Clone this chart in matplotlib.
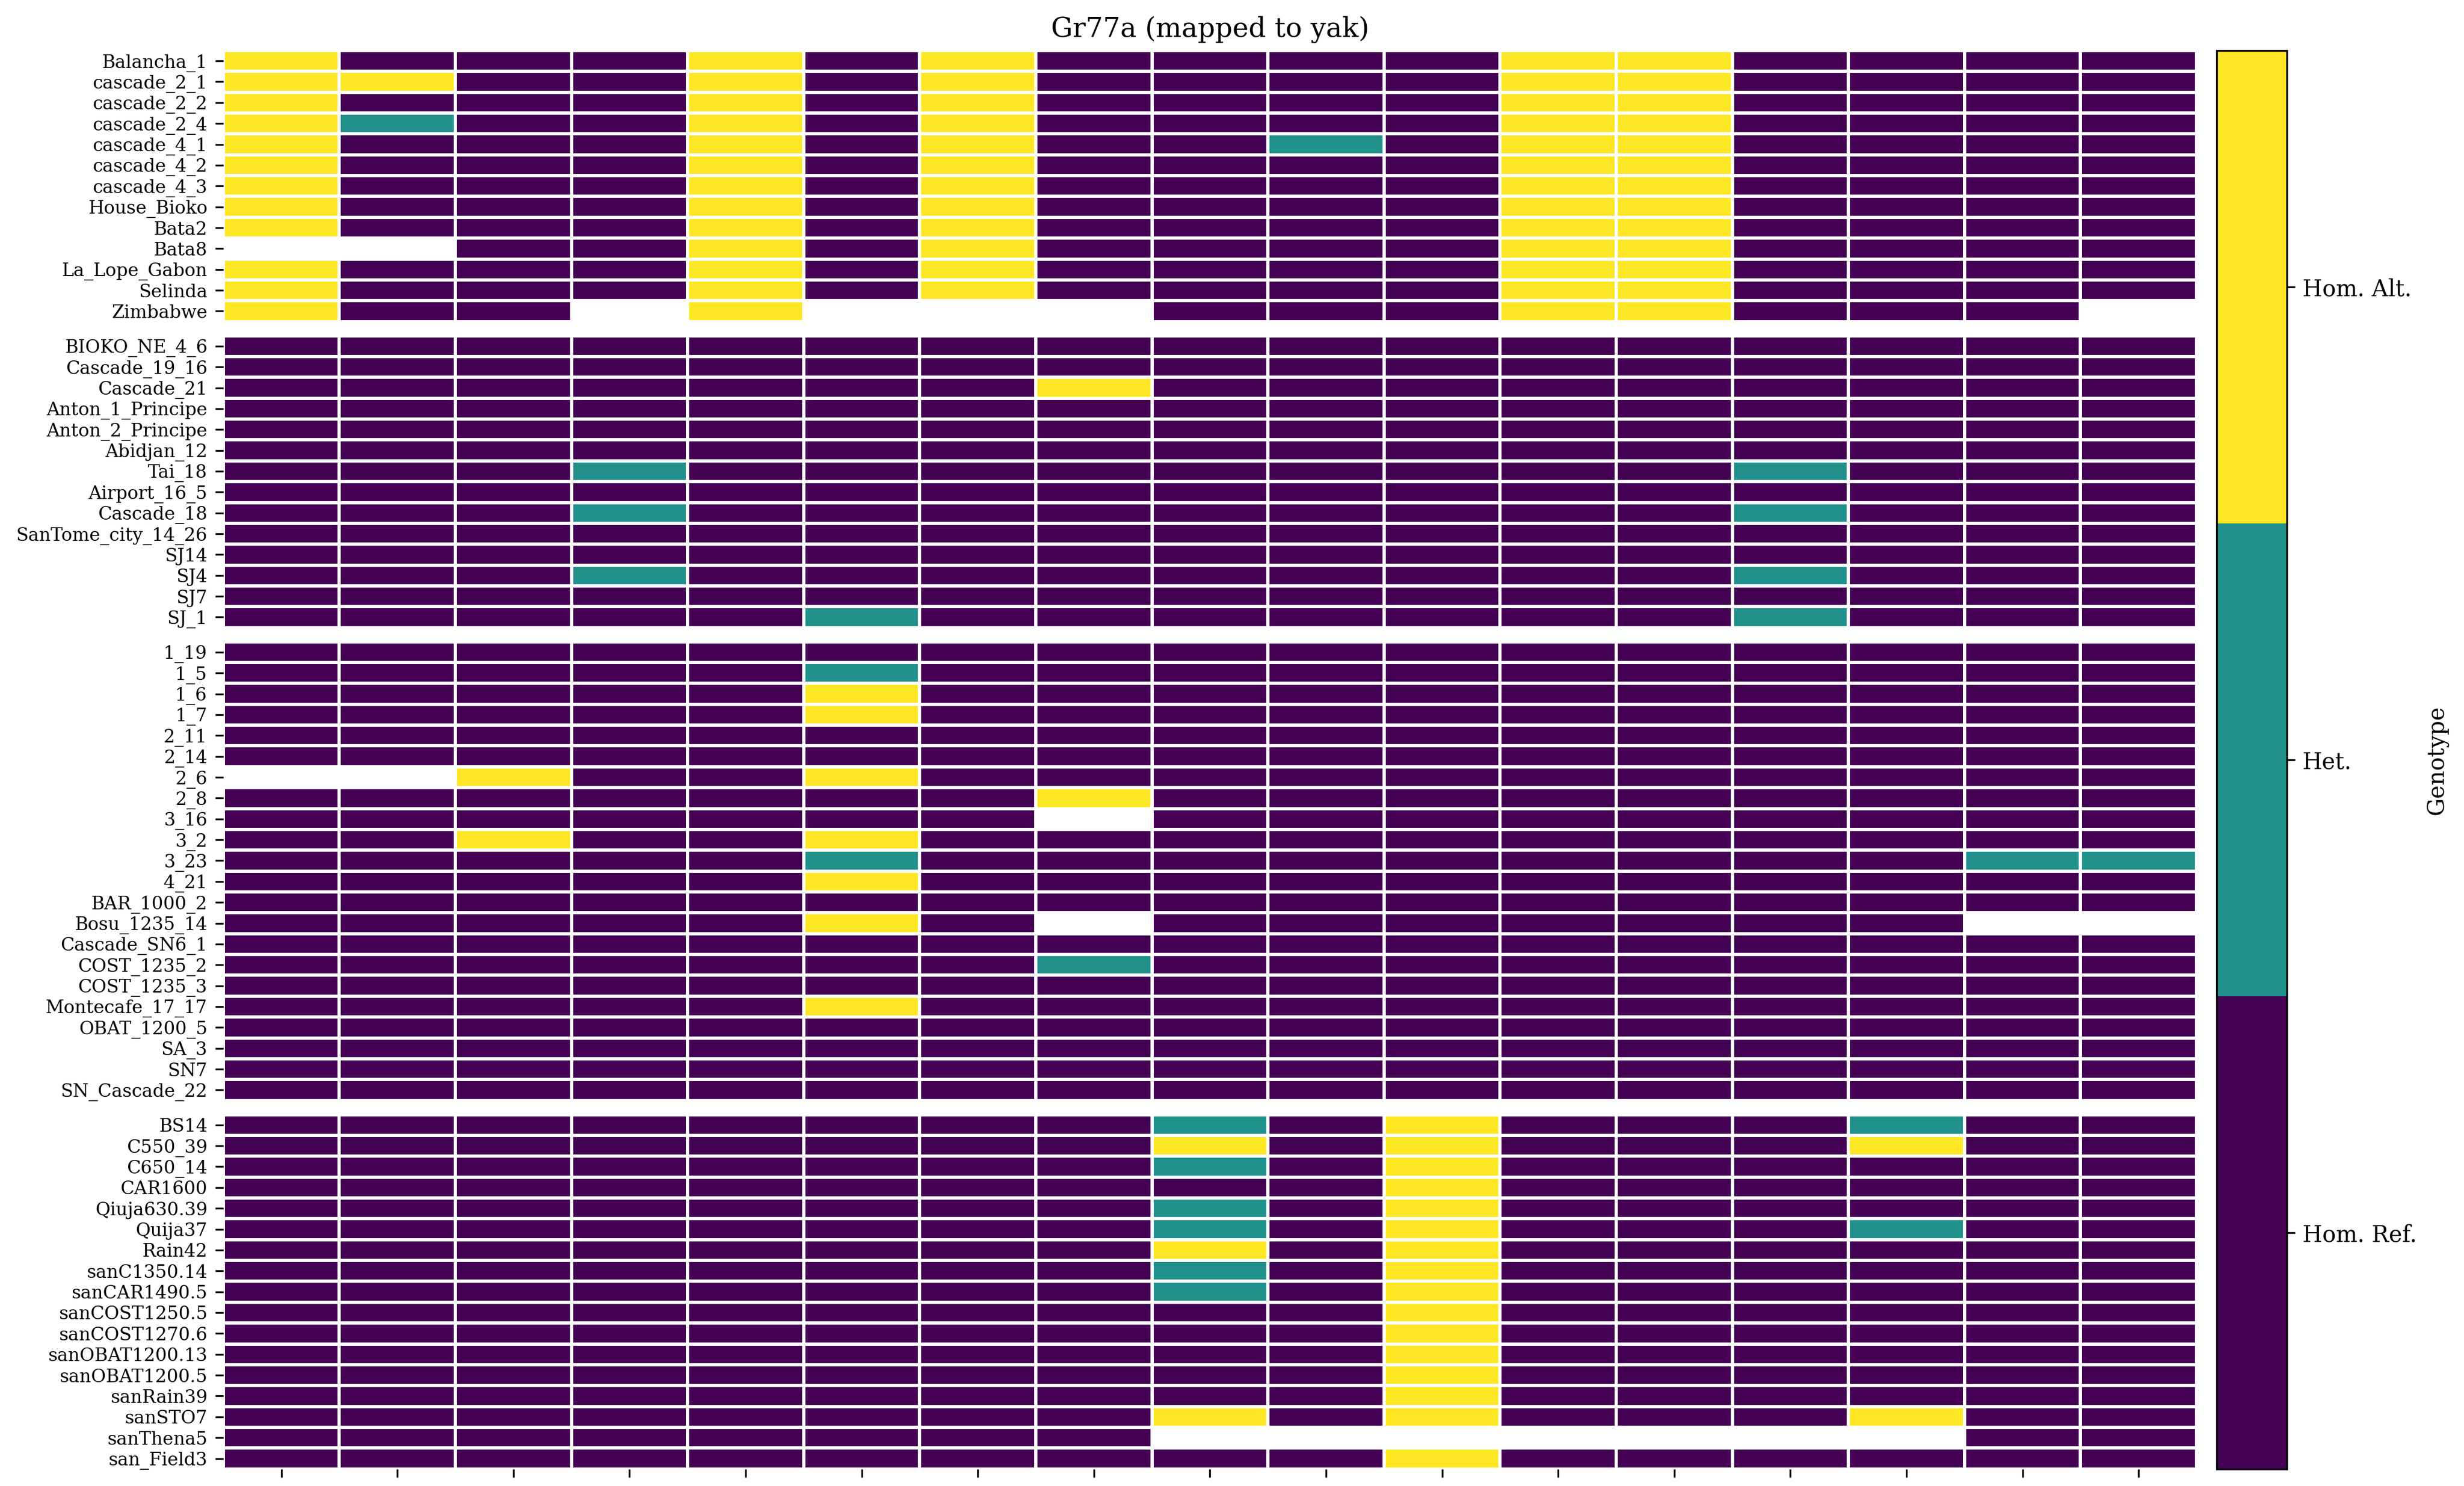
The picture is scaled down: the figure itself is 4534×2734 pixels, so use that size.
import numpy as np
import matplotlib
matplotlib.use("Agg")
import matplotlib.pyplot as plt
from matplotlib.colors import ListedColormap, BoundaryNorm

plt.rcParams['font.family'] = ['DejaVu Serif']

N = np.nan  # missing genotype

# 0 = Hom. Ref., 1 = Het., 2 = Hom. Alt.
group1_names = ["Balancha_1", "cascade_2_1", "cascade_2_2", "cascade_2_4", "cascade_4_1",
                "cascade_4_2", "cascade_4_3", "House_Bioko", "Bata2", "Bata8",
                "La_Lope_Gabon", "Selinda", "Zimbabwe"]
group1 = [
    [2, 0, 0, 0, 2, 0, 2, 0, 0, 0, 0, 2, 2, 0, 0, 0, 0],
    [2, 2, 0, 0, 2, 0, 2, 0, 0, 0, 0, 2, 2, 0, 0, 0, 0],
    [2, 0, 0, 0, 2, 0, 2, 0, 0, 0, 0, 2, 2, 0, 0, 0, 0],
    [2, 1, 0, 0, 2, 0, 2, 0, 0, 0, 0, 2, 2, 0, 0, 0, 0],
    [2, 0, 0, 0, 2, 0, 2, 0, 0, 1, 0, 2, 2, 0, 0, 0, 0],
    [2, 0, 0, 0, 2, 0, 2, 0, 0, 0, 0, 2, 2, 0, 0, 0, 0],
    [2, 0, 0, 0, 2, 0, 2, 0, 0, 0, 0, 2, 2, 0, 0, 0, 0],
    [2, 0, 0, 0, 2, 0, 2, 0, 0, 0, 0, 2, 2, 0, 0, 0, 0],
    [2, 0, 0, 0, 2, 0, 2, 0, 0, 0, 0, 2, 2, 0, 0, 0, 0],
    [N, N, 0, 0, 2, 0, 2, 0, 0, 0, 0, 2, 2, 0, 0, 0, 0],
    [2, 0, 0, 0, 2, 0, 2, 0, 0, 0, 0, 2, 2, 0, 0, 0, 0],
    [2, 0, 0, 0, 2, 0, 2, 0, 0, 0, 0, 2, 2, 0, 0, 0, 0],
    [2, 0, 0, N, 2, N, N, N, 0, 0, 0, 2, 2, 0, 0, 0, N],
]

group2_names = ["BIOKO_NE_4_6", "Cascade_19_16", "Cascade_21", "Anton_1_Principe",
                "Anton_2_Principe", "Abidjan_12", "Tai_18", "Airport_16_5", "Cascade_18",
                "SanTome_city_14_26", "SJ14", "SJ4", "SJ7", "SJ_1"]
group2 = [
    [0, 0, 0, 0, 0, 0, 0, 0, 0, 0, 0, 0, 0, 0, 0, 0, 0],
    [0, 0, 0, 0, 0, 0, 0, 0, 0, 0, 0, 0, 0, 0, 0, 0, 0],
    [0, 0, 0, 0, 0, 0, 0, 2, 0, 0, 0, 0, 0, 0, 0, 0, 0],
    [0, 0, 0, 0, 0, 0, 0, 0, 0, 0, 0, 0, 0, 0, 0, 0, 0],
    [0, 0, 0, 0, 0, 0, 0, 0, 0, 0, 0, 0, 0, 0, 0, 0, 0],
    [0, 0, 0, 0, 0, 0, 0, 0, 0, 0, 0, 0, 0, 0, 0, 0, 0],
    [0, 0, 0, 1, 0, 0, 0, 0, 0, 0, 0, 0, 0, 1, 0, 0, 0],
    [0, 0, 0, 0, 0, 0, 0, 0, 0, 0, 0, 0, 0, 0, 0, 0, 0],
    [0, 0, 0, 1, 0, 0, 0, 0, 0, 0, 0, 0, 0, 1, 0, 0, 0],
    [0, 0, 0, 0, 0, 0, 0, 0, 0, 0, 0, 0, 0, 0, 0, 0, 0],
    [0, 0, 0, 0, 0, 0, 0, 0, 0, 0, 0, 0, 0, 0, 0, 0, 0],
    [0, 0, 0, 1, 0, 0, 0, 0, 0, 0, 0, 0, 0, 1, 0, 0, 0],
    [0, 0, 0, 0, 0, 0, 0, 0, 0, 0, 0, 0, 0, 0, 0, 0, 0],
    [0, 0, 0, 0, 0, 1, 0, 0, 0, 0, 0, 0, 0, 1, 0, 0, 0],
]

group3_names = ["1_19", "1_5", "1_6", "1_7", "2_11", "2_14", "2_6", "2_8", "3_16", "3_2",
                "3_23", "4_21", "BAR_1000_2", "Bosu_1235_14", "Cascade_SN6_1", "COST_1235_2",
                "COST_1235_3", "Montecafe_17_17", "OBAT_1200_5", "SA_3", "SN7", "SN_Cascade_22"]
group3 = [
    [0, 0, 0, 0, 0, 0, 0, 0, 0, 0, 0, 0, 0, 0, 0, 0, 0],
    [0, 0, 0, 0, 0, 1, 0, 0, 0, 0, 0, 0, 0, 0, 0, 0, 0],
    [0, 0, 0, 0, 0, 2, 0, 0, 0, 0, 0, 0, 0, 0, 0, 0, 0],
    [0, 0, 0, 0, 0, 2, 0, 0, 0, 0, 0, 0, 0, 0, 0, 0, 0],
    [0, 0, 0, 0, 0, 0, 0, 0, 0, 0, 0, 0, 0, 0, 0, 0, 0],
    [0, 0, 0, 0, 0, 0, 0, 0, 0, 0, 0, 0, 0, 0, 0, 0, 0],
    [N, N, 2, 0, 0, 2, 0, 0, 0, 0, 0, 0, 0, 0, 0, 0, 0],
    [0, 0, 0, 0, 0, 0, 0, 2, 0, 0, 0, 0, 0, 0, 0, 0, 0],
    [0, 0, 0, 0, 0, 0, 0, N, 0, 0, 0, 0, 0, 0, 0, 0, 0],
    [0, 0, 2, 0, 0, 2, 0, 0, 0, 0, 0, 0, 0, 0, 0, 0, 0],
    [0, 0, 0, 0, 0, 1, 0, 0, 0, 0, 0, 0, 0, 0, 0, 1, 1],
    [0, 0, 0, 0, 0, 2, 0, 0, 0, 0, 0, 0, 0, 0, 0, 0, 0],
    [0, 0, 0, 0, 0, 0, 0, 0, 0, 0, 0, 0, 0, 0, 0, 0, 0],
    [0, 0, 0, 0, 0, 2, 0, N, 0, 0, 0, 0, 0, 0, 0, N, N],
    [0, 0, 0, 0, 0, 0, 0, 0, 0, 0, 0, 0, 0, 0, 0, 0, 0],
    [0, 0, 0, 0, 0, 0, 0, 1, 0, 0, 0, 0, 0, 0, 0, 0, 0],
    [0, 0, 0, 0, 0, 0, 0, 0, 0, 0, 0, 0, 0, 0, 0, 0, 0],
    [0, 0, 0, 0, 0, 2, 0, 0, 0, 0, 0, 0, 0, 0, 0, 0, 0],
    [0, 0, 0, 0, 0, 0, 0, 0, 0, 0, 0, 0, 0, 0, 0, 0, 0],
    [0, 0, 0, 0, 0, 0, 0, 0, 0, 0, 0, 0, 0, 0, 0, 0, 0],
    [0, 0, 0, 0, 0, 0, 0, 0, 0, 0, 0, 0, 0, 0, 0, 0, 0],
    [0, 0, 0, 0, 0, 0, 0, 0, 0, 0, 0, 0, 0, 0, 0, 0, 0],
]

group4_names = ["BS14", "C550_39", "C650_14", "CAR1600", "Qiuja630.39", "Quija37", "Rain42",
                "sanC1350.14", "sanCAR1490.5", "sanCOST1250.5", "sanCOST1270.6",
                "sanOBAT1200.13", "sanOBAT1200.5", "sanRain39", "sanSTO7", "sanThena5",
                "san_Field3"]
group4 = [
    [0, 0, 0, 0, 0, 0, 0, 0, 1, 0, 2, 0, 0, 0, 1, 0, 0],
    [0, 0, 0, 0, 0, 0, 0, 0, 2, 0, 2, 0, 0, 0, 2, 0, 0],
    [0, 0, 0, 0, 0, 0, 0, 0, 1, 0, 2, 0, 0, 0, 0, 0, 0],
    [0, 0, 0, 0, 0, 0, 0, 0, 0, 0, 2, 0, 0, 0, 0, 0, 0],
    [0, 0, 0, 0, 0, 0, 0, 0, 1, 0, 2, 0, 0, 0, 0, 0, 0],
    [0, 0, 0, 0, 0, 0, 0, 0, 1, 0, 2, 0, 0, 0, 1, 0, 0],
    [0, 0, 0, 0, 0, 0, 0, 0, 2, 0, 2, 0, 0, 0, 0, 0, 0],
    [0, 0, 0, 0, 0, 0, 0, 0, 1, 0, 2, 0, 0, 0, 0, 0, 0],
    [0, 0, 0, 0, 0, 0, 0, 0, 1, 0, 2, 0, 0, 0, 0, 0, 0],
    [0, 0, 0, 0, 0, 0, 0, 0, 0, 0, 2, 0, 0, 0, 0, 0, 0],
    [0, 0, 0, 0, 0, 0, 0, 0, 0, 0, 2, 0, 0, 0, 0, 0, 0],
    [0, 0, 0, 0, 0, 0, 0, 0, 0, 0, 2, 0, 0, 0, 0, 0, 0],
    [0, 0, 0, 0, 0, 0, 0, 0, 0, 0, 2, 0, 0, 0, 0, 0, 0],
    [0, 0, 0, 0, 0, 0, 0, 0, 0, 0, 2, 0, 0, 0, 0, 0, 0],
    [0, 0, 0, 0, 0, 0, 0, 0, 2, 0, 2, 0, 0, 0, 2, 0, 0],
    [0, 0, 0, 0, 0, 0, 0, 0, N, N, N, N, N, N, N, 0, 0],
    [0, 0, 0, 0, 0, 0, 0, 0, 0, 0, 2, 0, 0, 0, 0, 0, 0],
]

genotype_labels = ["Hom. Ref.", "Het.", "Hom. Alt."]
title = "Gr77a (mapped to yak)"

groups = [(group1_names, group1), (group2_names, group2),
          (group3_names, group3), (group4_names, group4)]

viridis = plt.get_cmap("viridis")
cmap = ListedColormap([viridis(0.0), viridis(0.5), viridis(1.0)])
norm = BoundaryNorm([-0.5, 0.5, 1.5, 2.5], cmap.N)

fig = plt.figure(figsize=(4534 / 300, 2734 / 300), dpi=300)

# layout in figure fractions
left, right = 0.0906, 0.8915
top, bottom = 0.9660, 0.01145
gap = 26 / 2734
n_rows = sum(len(g[0]) for g in groups)
row_h = (top - bottom - gap * (len(groups) - 1)) / n_rows

y = top
axes = []
for i, (names, vals) in enumerate(groups):
    h = row_h * len(names)
    ax = fig.add_axes([left, y - h, right - left, h])
    data = np.ma.masked_invalid(np.array(vals, dtype=float))
    mesh = ax.pcolormesh(data, cmap=cmap, norm=norm, edgecolors="white", linewidth=1.0)
    ax.set_xlim(0, data.shape[1])
    ax.set_ylim(data.shape[0], 0)
    ax.set_yticks(np.arange(len(names)) + 0.5)
    ax.set_yticklabels(names, fontsize=8)
    for s in ax.spines.values():
        s.set_visible(False)
    if i == len(groups) - 1:
        ax.set_xticks(np.arange(data.shape[1]) + 0.5)
        ax.set_xticklabels([])
    else:
        ax.set_xticks([])
    axes.append(ax)
    y = y - h - gap

axes[0].set_title(title, fontsize=12)

cax = fig.add_axes([0.8996, bottom, 0.9281 - 0.8996, top - bottom])
cb = fig.colorbar(mesh, cax=cax, ticks=[0, 1, 2])
cb.ax.minorticks_off()
cb.ax.set_yticklabels(genotype_labels)
cb.set_label("Genotype")

fig.savefig("out.png", dpi=300)
